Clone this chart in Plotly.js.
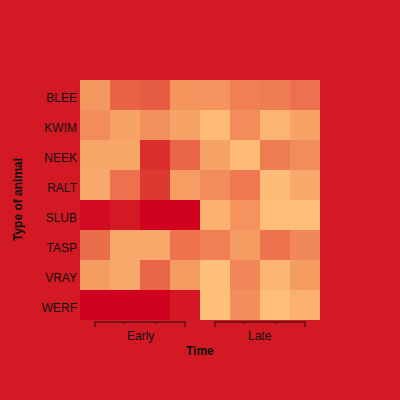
<!DOCTYPE html>
<html>
<head>
<meta charset="utf-8">
<script src="https://cdn.plot.ly/plotly-3.0.1.min.js"></script>
<style>html,body{margin:0;padding:0;background:#d31a24;}</style>
</head>
<body>
<div id="chart" style="width:400px;height:400px;"></div>
<script>
// Data
const animals = ['BLEE','KWIM','NEEK','RALT','SLUB','TASP','VRAY','WERF'];
const periods = [0,1,2,3,4,5,6,7];
const groups = ['Early','Early','Early','Early','Late','Late','Late','Late'];
const zBLEE = [26, 55, 58, 28, 29, 40, 41, 48];
const zKWIM = [32, 20, 30, 20, 3, 32, 8, 20];
const zNEEK = [18, 18, 80, 54, 20, 3, 41, 33];
const zRALT = [17, 48, 75, 23, 32, 44, 2, 15];
const zSLUB = [95, 90, 100, 100, 9, 29, 1, 1];
const zTASP = [50, 16, 16, 46, 40, 24, 46, 35];
const zVRAY = [24, 16, 54, 24, 0, 36, 8, 24];
const zWERF = [100, 100, 100, 91, 0, 31, 0, 10];
const zRows = [zBLEE, zKWIM, zNEEK, zRALT, zSLUB, zTASP, zVRAY, zWERF];

const bracketColor = '#7a1319';
const font = 'Liberation Sans, Arial, sans-serif';

const trace = {
  type: 'heatmap',
  x: periods,
  y: animals,
  z: zRows,
  zmin: 0, zmax: 100,
  colorscale: [[0,'#fec079'],[0.25,'#f59a61'],[0.5,'#ec6d4c'],[0.75,'#dc3a31'],[1,'#d0021f']],
  showscale: false,
  xgap: 0, ygap: 0,
  hoverinfo: 'none'
};

// group brackets built from the groups array
const uniq = [...new Set(groups)];
const shapes = [];
const annotations = [];
uniq.forEach(g => {
  const idx = periods.filter((p, i) => groups[i] === g);
  const a = Math.min(...idx), b = Math.max(...idx);
  shapes.push({type:'line', xref:'x', yref:'paper', ysizemode:'pixel', yanchor:0,
    x0:a, x1:b, y0:-2, y1:-2, line:{color:bracketColor, width:2}});
  idx.forEach(p => {
    const end = (p === a || p === b);
    shapes.push({type:'line', xref:'x', yref:'paper', ysizemode:'pixel', yanchor:0,
      x0:p, x1:p, y0:-1, y1: end ? -7 : -4, line:{color:bracketColor, width:2}});
  });
  annotations.push({text:g, xref:'x', yref:'paper', x:(a+b)/2, y:0, yshift:-16,
    showarrow:false, yanchor:'middle', font:{family:font, size:12, color:'#111'}});
});
annotations.push({text:'<b>Time</b>', xref:'paper', yref:'paper', x:0.5, y:0, yshift:-31,
  showarrow:false, yanchor:'middle', font:{family:font, size:12, color:'#111'}});
annotations.push({text:'<b>Type of animal</b>', xref:'paper', yref:'paper', x:0, y:0.5, xshift:-62,
  textangle:-90, showarrow:false, xanchor:'center', yanchor:'middle', font:{family:font, size:12, color:'#111'}});

const layout = {
  width: 400, height: 400,
  margin: {l:80, r:80, t:80, b:80},
  paper_bgcolor: '#d31a24',
  plot_bgcolor: '#d31a24',
  font: {family: font, size: 12, color: '#111'},
  xaxis: {showticklabels:false, showgrid:false, zeroline:false, ticks:'', showline:false, range:[-0.5,7.5]},
  yaxis: {autorange:'reversed', showgrid:false, zeroline:false, ticks:'', showline:false,
    tickfont:{family:font, size:12, color:'#111'}, ticklabelstandoff:2, ticklabelshift:-3},
  shapes: shapes,
  annotations: annotations
};

Plotly.newPlot('chart', [trace], layout, {displayModeBar:false, staticPlot:true});
</script>
</body>
</html>
